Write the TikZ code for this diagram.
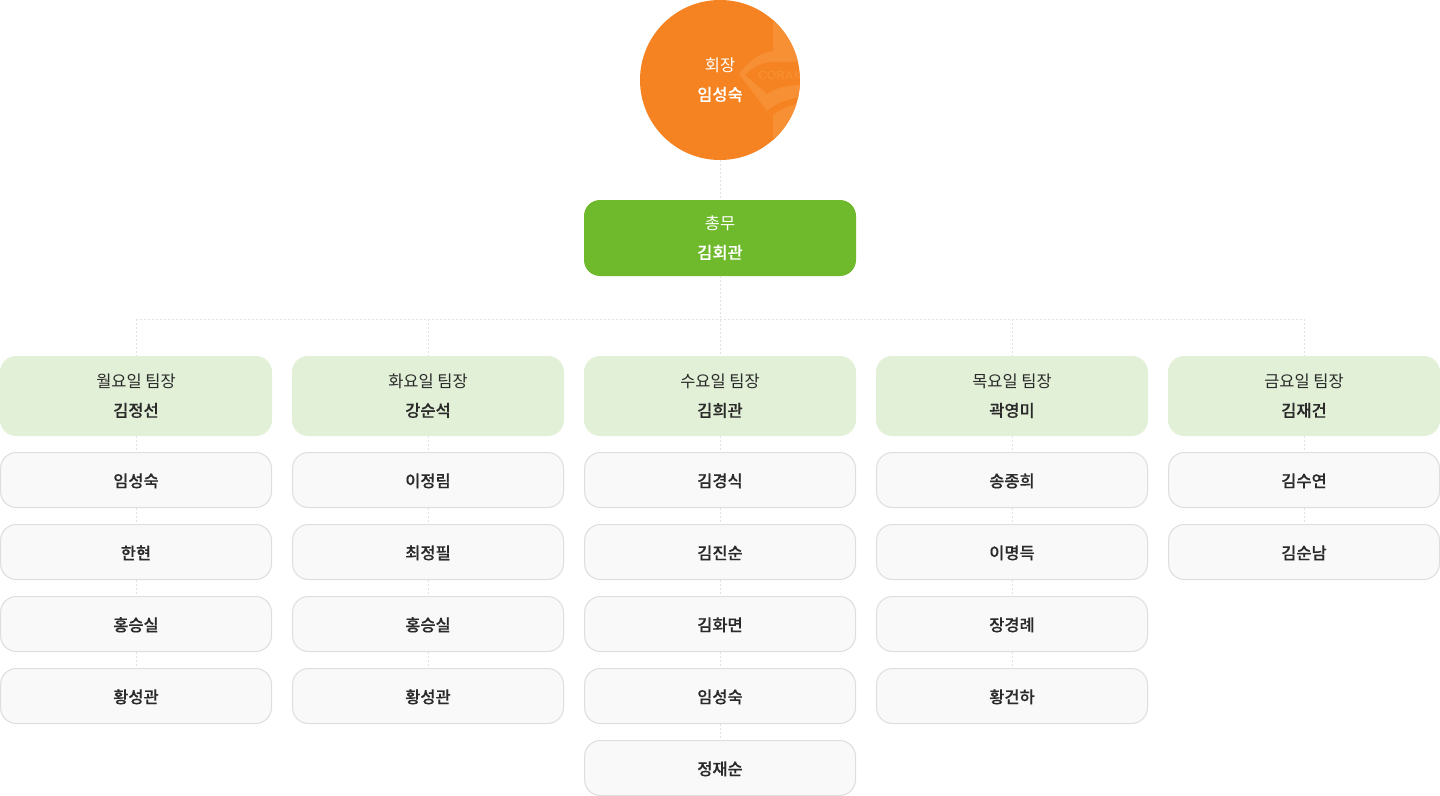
\documentclass[tikz,border=0pt]{standalone}
\usepackage{fontspec}
\setmainfont{Noto Sans CJK KR}[BoldFont={Noto Sans CJK KR Medium}, BoldFeatures={FakeBold=.25}]
\newfontfamily\logofont{Liberation Sans}
\definecolor{chieforange}{HTML}{F58321}
\definecolor{logoband}{HTML}{F78F34}
\definecolor{logotext}{HTML}{F78E30}
\definecolor{staffgreen}{HTML}{6FBA2C}
\definecolor{headgreen}{HTML}{E2F0D7}
\definecolor{memberfill}{HTML}{F9F9F9}
\definecolor{memberline}{HTML}{DEDEDE}
\definecolor{linkgray}{HTML}{E2E2E2}
\definecolor{inkdark}{HTML}{2A2A2A}
\tikzset{
  textdrop/.style={execute at begin node={\rule{0pt}{12.6pt}}},
  chief/.style={circle, fill=chieforange, minimum size=120pt, inner sep=0pt, outer sep=0pt},
  chieflabel/.style={textdrop, align=center, text=white, inner sep=0pt, font=\fontsize{12.35pt}{21.75pt}\selectfont},
  staffbox/.style={textdrop, rectangle, rounded corners=12pt, fill=staffgreen, text=white, align=center,
    minimum width=204pt, minimum height=57pt, inner sep=0pt, outer sep=0pt, font=\fontsize{12.35pt}{21.75pt}\selectfont},
  headbox/.style={textdrop, rectangle, rounded corners=12pt, fill=headgreen, text=inkdark, align=center,
    minimum width=204pt, minimum height=60pt, inner sep=0pt, outer sep=0pt, font=\fontsize{12.35pt}{21.75pt}\selectfont},
  memberbox/.style={execute at begin node={\rule{0pt}{11.6pt}}, rectangle, rounded corners=12pt, fill=memberfill, draw=memberline, line width=.75pt, text=inkdark,
    minimum width=203.25pt, minimum height=41.25pt, inner sep=0pt, font=\fontsize{12.35pt}{14pt}\bfseries},
  link/.style={draw=linkgray, line width=.75pt, dash pattern=on 1.5pt off 1.5pt}
}
\begin{document}
\begin{tikzpicture}[x=.75pt, y=-.75pt]
  \useasboundingbox (0, 0) rectangle (1440, 796);

  %%top
  \node[chief] (ceo) at (720, 80) {};
  \begin{scope}
    \clip (720, 80) circle [radius=80];
    \fill[logoband] (773, 0) to (773, 51) .. controls (758, 53) and (748, 62) .. (739, 74)
      to (767, 111) .. controls (776, 103) and (788, 99) .. (800, 97)
      to (800, 85) .. controls (788, 85) and (776, 88) .. (767, 94)
      to (745, 75) .. controls (753, 67) and (762, 62) .. (773, 62)
      to (800, 62) to (800, 0) -- cycle;
    \fill[logoband] (773, 160) to (773, 115) .. controls (779, 110) and (788, 106) .. (800, 103)
      to (800, 160) -- cycle;
    \node[text=logotext, inner sep=0pt, font=\logofont\fontsize{9pt}{10pt}\bfseries, anchor=west] (coram) at (758, 75) {CORAM};
  \end{scope}
  \node[chieflabel] (ceotext) at (720, 80) {회장\\\textbf{임성숙}};
  \node[staffbox] (staff) at (720, 238) {총무\\\textbf{김회관}};

  %%mon
  \node[headbox] (mon) at (136, 396) {월요일 팀장\\\textbf{김정선}};
    \node[memberbox] (mon1) at (136, 480) {임성숙};
    \node[memberbox] (mon2) at (136, 552) {한현};
    \node[memberbox] (mon3) at (136, 624) {홍승실};
    \node[memberbox] (mon4) at (136, 696) {황성관};

  %%tue
  \node[headbox] (tue) at (428, 396) {화요일 팀장\\\textbf{강순석}};
    \node[memberbox] (tue1) at (428, 480) {이정림};
    \node[memberbox] (tue2) at (428, 552) {최정필};
    \node[memberbox] (tue3) at (428, 624) {홍승실};
    \node[memberbox] (tue4) at (428, 696) {황성관};

  %%wed
  \node[headbox] (wed) at (720, 396) {수요일 팀장\\\textbf{김희관}};
    \node[memberbox] (wed1) at (720, 480) {김경식};
    \node[memberbox] (wed2) at (720, 552) {김진순};
    \node[memberbox] (wed3) at (720, 624) {김화면};
    \node[memberbox] (wed4) at (720, 696) {임성숙};
    \node[memberbox] (wed5) at (720, 768) {정재순};

  %%thu
  \node[headbox] (thu) at (1012, 396) {목요일 팀장\\\textbf{곽영미}};
    \node[memberbox] (thu1) at (1012, 480) {송종희};
    \node[memberbox] (thu2) at (1012, 552) {이명득};
    \node[memberbox] (thu3) at (1012, 624) {장경례};
    \node[memberbox] (thu4) at (1012, 696) {황건하};

  %%fri
  \node[headbox] (fri) at (1304, 396) {금요일 팀장\\\textbf{김재건}};
    \node[memberbox] (fri1) at (1304, 480) {김수연};
    \node[memberbox] (fri2) at (1304, 552) {김순남};

  %%links
  \coordinate (busmon) at (136, 319);
  \coordinate (bustue) at (428, 319);
  \coordinate (busthu) at (1012, 319);
  \coordinate (busfri) at (1304, 319);

  \draw[link] (ceo) to (staff);
  \draw[link] (staff) to (wed);
  \draw[link] (busmon) to (busfri);
  \draw[link] (busmon) to (mon);
  \draw[link] (bustue) to (tue);
  \draw[link] (busthu) to (thu);
  \draw[link] (busfri) to (fri);

    \draw[link] (mon) to (mon1);
    \draw[link] (mon1) to (mon2);
    \draw[link] (mon2) to (mon3);
    \draw[link] (mon3) to (mon4);

    \draw[link] (tue) to (tue1);
    \draw[link] (tue1) to (tue2);
    \draw[link] (tue2) to (tue3);
    \draw[link] (tue3) to (tue4);

    \draw[link] (wed) to (wed1);
    \draw[link] (wed1) to (wed2);
    \draw[link] (wed2) to (wed3);
    \draw[link] (wed3) to (wed4);
    \draw[link] (wed4) to (wed5);

    \draw[link] (thu) to (thu1);
    \draw[link] (thu1) to (thu2);
    \draw[link] (thu2) to (thu3);
    \draw[link] (thu3) to (thu4);

    \draw[link] (fri) to (fri1);
    \draw[link] (fri1) to (fri2);
\end{tikzpicture}
\end{document}
